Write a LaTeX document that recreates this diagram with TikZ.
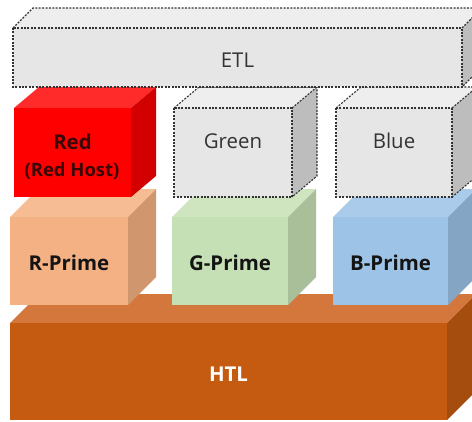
\documentclass[tikz,border=0pt]{standalone}
\usepackage{fontspec}
\setmainfont{Open Sans}
\definecolor{etlF}{HTML}{E6E6E6}
\definecolor{etlT}{HTML}{EEEEEE}
\definecolor{etlS}{HTML}{BDBDBD}
\definecolor{redF}{HTML}{FF0000}
\definecolor{redT}{HTML}{FF2A2A}
\definecolor{redS}{HTML}{D20000}
\definecolor{rpF}{HTML}{F4B183}
\definecolor{rpT}{HTML}{F6BD94}
\definecolor{rpS}{HTML}{D0966E}
\definecolor{gpF}{HTML}{C5E0B4}
\definecolor{gpT}{HTML}{CEE5BF}
\definecolor{gpS}{HTML}{A8BF99}
\definecolor{bpF}{HTML}{9DC3E6}
\definecolor{bpT}{HTML}{AACCEA}
\definecolor{bpS}{HTML}{84A5C4}
\definecolor{htlF}{HTML}{C55A11}
\definecolor{htlT}{HTML}{D4773D}
\definecolor{htlS}{HTML}{A54C0F}
\definecolor{dashc}{HTML}{333333}
\definecolor{txtgray}{HTML}{333333}
\definecolor{txtdark}{HTML}{141414}
\definecolor{txtred}{HTML}{3A0606}
% #1 outline style, #2 x1, #3 y1 (front top-left), #4 x2, #5 y2 (front bottom-right), #6 dx, #7 dy, #8 colour prefix
\newcommand\cuboid[8][draw=none]{%
  \fill[#8T] (#2,#3) -- ++(#6,-#7) -- ({#4+#6},{#3-#7}) -- (#4,#3) -- cycle;
  \fill[#8S] (#4,#3) -- ++(#6,-#7) -- ({#4+#6},{#5-#7}) -- (#4,#5) -- cycle;
  \fill[#8F] (#2,#3) rectangle (#4,#5);
  \path[#1] (#2,#3) rectangle (#4,#5);
  \path[#1] (#2,#3) -- ++(#6,-#7) -- ({#4+#6},{#3-#7}) -- ({#4+#6},{#5-#7}) -- (#4,#5);
  \path[#1] (#4,#3) -- ++(#6,-#7);
}
\tikzset{
  dashbox/.style={draw=dashc, line width=1.1bp, dash pattern=on 2bp off 1.4bp},
  lbl/.style={anchor=base, inner sep=0pt, font=\fontsize{20.5}{24}\selectfont, text=txtgray},
  blbl/.style={anchor=base, inner sep=0pt, font=\fontsize{20.5}{24}\selectfont\bfseries, text=txtdark},
}
\begin{document}
\begin{tikzpicture}[x=1bp,y=-1bp]
\clip (0,0) rectangle (472,421);
\fill[white] (0,0) rectangle (472,421);
% HTL
\cuboid{10}{323}{447}{420}{29}{29}{htl}
% primes
\cuboid{10}{217}{128}{305}{28}{28}{rp}
\cuboid{172}{217}{288}{305}{28}{28}{gp}
\cuboid{333}{217}{448}{305}{28}{28}{bp}
% red green blue
\cuboid{14}{108}{131}{197}{25}{21}{red}
\cuboid[dashbox]{174}{108}{292}{197}{25}{21}{etl}
\cuboid[dashbox]{336}{108}{452}{197}{25}{21}{etl}
% ETL
\cuboid[dashbox]{13}{28}{462}{87}{20}{20}{etl}
% labels
\node[lbl] (etl) at (237.5,67.5) {ETL};
\node[blbl, text=txtred] (red) at (72.5,149) {Red};
\node[blbl, text=txtred, font=\fontsize{18.5}{22}\selectfont\bfseries] (redhost) at (72,176) {(Red Host)};
\node[lbl] (green) at (233,148) {Green};
\node[lbl] (blue) at (394,148) {Blue};
\node[blbl] (rprime) at (69,270) {R-Prime};
\node[blbl] (gprime) at (230,270) {G-Prime};
\node[blbl] (bprime) at (390.5,270) {B-Prime};
\node[blbl, text=white] (htl) at (228.5,381.5) {HTL};
\end{tikzpicture}
\end{document}
